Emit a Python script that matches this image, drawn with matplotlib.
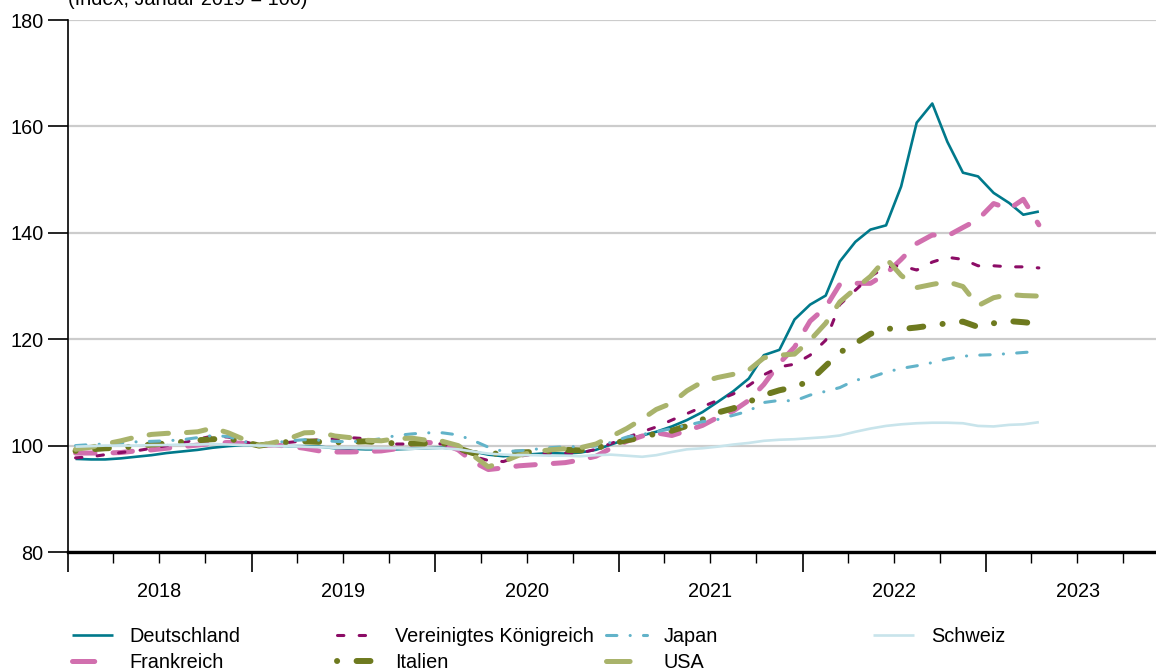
import matplotlib
matplotlib.use("Agg")
import matplotlib.pyplot as plt
import matplotlib.dates as mdates
from matplotlib.lines import Line2D
import pandas as pd
import numpy as np

plt.rcParams['font.family'] = ['Liberation Sans', 'DejaVu Sans']
plt.rcParams['lines.scale_dashes'] = False

# ---- data: monthly index, Jan 2018 .. Apr 2023 (Jan 2019 = 100) ----
start_month = "2018-01"
end_month = "2023-04"

deutschland = [97.5, 97.4, 97.4, 97.6, 97.9, 98.2, 98.6, 98.9, 99.2, 99.6, 99.9, 100.1,
               100.0, 100.0, 99.9, 99.9, 99.8, 99.5, 99.4, 99.3, 99.3, 99.3, 99.4, 99.5,
               99.6, 99.3, 98.9, 98.3, 98.0, 98.2, 98.4, 98.6, 98.5, 98.7, 99.2, 100.2,
               101.2, 101.9, 102.6, 103.6, 104.8, 106.3, 108.2, 110.2, 112.6, 117.0, 118.0, 123.7,
               126.5, 128.2, 134.6, 138.3, 140.6, 141.4, 148.7, 160.7, 164.3, 157.1, 151.3, 150.6,
               147.5, 145.6, 143.4, 144.0]
frankreich = [98.6, 98.6, 98.6, 98.7, 99.0, 99.2, 99.5, 99.8, 100.1, 100.4, 100.6, 100.4,
              100.0, 100.1, 99.9, 99.5, 99.0, 98.8, 98.8, 98.9, 99.0, 99.4, 100.3, 100.6,
              100.4, 99.2, 97.0, 95.5, 95.8, 96.2, 96.4, 96.6, 96.8, 97.3, 98.0, 99.5,
              100.8, 101.8, 102.4, 101.9, 102.8, 103.8, 105.3, 106.5, 108.5, 111.5, 115.5, 118.5,
              123.4, 126.0, 130.3, 130.5, 130.5, 132.3, 135.0, 138.0, 139.6, 139.4, 141.0, 142.5,
              145.5, 144.5, 146.3, 141.5]
vereinigtes_koenigreich = [97.7, 97.9, 98.3, 98.7, 99.0, 99.5, 100.0, 100.5, 101.2, 101.8, 101.6, 100.8,
                           100.0, 100.2, 100.6, 100.9, 101.1, 101.3, 101.5, 101.3, 100.8, 100.3, 100.3, 100.5,
                           100.3, 99.4, 98.0, 97.2, 97.0, 98.0, 98.4, 98.6, 98.6, 98.6, 99.3, 100.4,
                           101.5, 102.6, 103.5, 104.8, 106.0, 107.3, 108.5, 109.7, 111.3, 113.3, 114.8, 115.3,
                           117.0, 119.8, 126.5, 129.2, 131.8, 133.6, 133.8, 133.0, 134.5, 135.4, 135.0, 133.8,
                           133.8, 133.6, 133.6, 133.4]
italien = [99.0, 99.3, 99.5, 99.6, 99.9, 100.2, 100.4, 100.7, 101.0, 101.2, 101.3, 100.7,
           100.0, 100.4, 100.7, 100.8, 100.7, 100.6, 100.7, 100.8, 100.6, 100.4, 100.4, 100.4,
           100.5, 99.5, 98.6, 98.4, 98.6, 98.7, 98.8, 99.0, 99.2, 99.1, 99.5, 100.3,
           101.0, 101.5, 102.3, 102.8, 103.7, 104.9, 106.2, 107.0, 108.2, 109.5, 110.4, 111.0,
           112.2, 115.0, 117.5, 119.2, 121.0, 122.0, 121.9, 122.2, 122.6, 123.0, 123.3, 122.3,
           123.0, 123.4, 123.2, 122.9]
japan = [100.0, 100.2, 100.3, 100.5, 100.7, 100.8, 100.9, 101.1, 101.5, 101.9, 101.7, 100.8,
         100.0, 100.5, 100.9, 101.1, 101.0, 100.8, 100.7, 100.9, 101.3, 101.9, 102.2, 102.4,
         102.4, 102.0, 101.0, 99.7, 98.9, 99.0, 99.3, 99.6, 99.8, 99.8, 99.9, 100.6,
         101.6, 102.1, 102.6, 103.2, 103.8, 104.5, 104.9, 105.7, 106.5, 108.1, 108.5, 108.4,
         109.5, 110.2, 110.9, 112.3, 112.8, 113.8, 114.5, 115.0, 115.6, 116.3, 116.8, 117.0,
         117.1, 117.3, 117.5, 117.7]
usa = [99.3, 99.7, 100.3, 100.9, 101.6, 102.1, 102.3, 102.4, 102.6, 103.3, 102.4, 101.2,
       100.0, 100.6, 101.3, 102.4, 102.5, 101.8, 101.5, 101.0, 100.9, 101.3, 101.4, 101.0,
       100.8, 100.0, 98.2, 96.0, 97.0, 98.2, 98.8, 99.2, 99.4, 99.6, 100.3, 101.7,
       103.2, 105.0, 106.8, 108.0, 110.3, 112.0, 112.8, 113.4, 114.2, 116.5, 117.0, 117.2,
       119.8, 123.0, 127.0, 129.5, 131.8, 135.2, 132.0, 129.7, 130.3, 130.8, 129.9, 126.3,
       127.8, 128.4, 128.2, 128.1]
schweiz = [99.8, 99.9, 100.0, 100.0, 100.0, 100.1, 100.1, 100.2, 100.2, 100.3, 100.2, 100.1,
           100.0, 99.9, 99.9, 99.8, 99.7, 99.6, 99.6, 99.5, 99.5, 99.5, 99.4, 99.5,
           99.5, 99.3, 98.9, 98.5, 98.3, 98.2, 98.2, 98.1, 98.1, 98.0, 98.2, 98.3,
           98.1, 97.9, 98.2, 98.8, 99.3, 99.5, 99.8, 100.2, 100.5, 100.9, 101.1, 101.2,
           101.4, 101.6, 101.9, 102.6, 103.2, 103.7, 104.0, 104.2, 104.3, 104.3, 104.2, 103.7,
           103.6, 103.9, 104.0, 104.4]

series_names = ["Deutschland", "Frankreich", "Vereinigtes Königreich", "Italien",
                "Japan", "USA", "Schweiz"]
series_values = [deutschland, frankreich, vereinigtes_koenigreich, italien, japan, usa, schweiz]
year_labels = ["2018", "2019", "2020", "2021", "2022", "2023"]
y_ticks = [80, 100, 120, 140, 160, 180]
title = "(Index, Januar 2019 = 100)"

# ---- styles ----
styles = {
    "Deutschland": dict(color="#00798b", lw=1.9, ls="-"),
    "Frankreich": dict(color="#d16fae", lw=3.6, ls=(0, (14, 13)), dash_capstyle="round"),
    "Vereinigtes Königreich": dict(color="#8c0c66", lw=2.2, ls=(0, (4.6, 11)), dash_capstyle="round"),
    "Italien": dict(color="#6e7a1f", lw=4.3, ls=(24, (10, 14, 0.1, 14)), dash_capstyle="round"),
    "Japan": dict(color="#62b3c9", lw=2.2, ls=(0, (7.5, 9.5, 0.1, 9.5)), dash_capstyle="round"),
    "USA": dict(color="#a9b36b", lw=3.6, ls=(0, (14, 13)), dash_capstyle="round"),
    "Schweiz": dict(color="#c8e4eb", lw=1.9, ls="-"),
}
# legend keys for the long-dashed series show one single dash
legend_ls = {"Frankreich": (0, (16, 40)), "USA": (0, (17, 40)),
             "Vereinigtes Königreich": (0, (4.6, 11))}

W, H = 1156, 670
fig = plt.figure(figsize=(W / 100, H / 100), dpi=100)
ax = fig.add_axes([68 / W, 1 - 552 / H, 1 - 68 / W, (552 - 20) / H])

months = pd.date_range(start_month, end_month, freq="MS") + pd.Timedelta(days=15)

for name, vals in zip(series_names, series_values):
    st = styles[name]
    kw = {k: v for k, v in st.items() if k not in ("ls",)}
    ax.plot(months, vals, linestyle=st["ls"], label=name, solid_capstyle="butt", **kw)

# axes limits
x0 = mdates.date2num(pd.Timestamp("2018-01-01"))
x1 = mdates.date2num(pd.Timestamp("2024-01-01"))
ax.set_xlim(x0, x0 + (x1 - x0) * (1088 / (6 * 183.6)))
ax.set_ylim(80, 180)

# y axis
ax.set_yticks(y_ticks)
ax.set_yticklabels([str(v) for v in y_ticks])
ax.tick_params(axis="y", direction="out", length=14.5, width=1.2, pad=3, labelsize=14.3)
ax.yaxis.grid(True, color="#cccccc", lw=1.6)
ax.set_axisbelow(True)

# x axis ticks: years (long), quarters (short)
year_pos = [pd.Timestamp(f"{y}-01-01") for y in year_labels]
quarter_pos = pd.date_range("2018-01-01", "2023-12-31", freq="QS")
ax.set_xticks(year_pos)
ax.set_xticklabels([])
ax.set_xticks(quarter_pos, minor=True)
ax.tick_params(axis="x", which="major", direction="out", length=14.5, width=1.2)
ax.tick_params(axis="x", which="minor", direction="out", length=8, width=1.0)

sec = ax.secondary_xaxis("bottom")
sec.set_xticks([pd.Timestamp(f"{y}-07-02") for y in year_labels])
sec.set_xticklabels(year_labels)
sec.tick_params(length=0, pad=21.5, labelsize=14.3)
sec.spines["bottom"].set_visible(False)

for s in ["top", "right"]:
    ax.spines[s].set_visible(False)
ax.spines["left"].set_linewidth(1.2)
ax.spines["bottom"].set_linewidth(2.4)
ax.spines["bottom"].set_zorder(5)

# title (partly above the top edge, as in the original)
fig.text(68 / W, 1 - 5 / H, title, fontsize=14.3, va="baseline", ha="left")

# legend in 4 fixed columns
def key(name):
    st = styles[name]
    kw = {k: v for k, v in st.items() if k not in ("ls",)}
    return Line2D([], [], linestyle=legend_ls.get(name, st["ls"]), solid_capstyle="butt", **kw)

col_x = [72, 337, 606, 873]
columns = [["Deutschland", "Frankreich"], ["Vereinigtes Königreich", "Italien"],
           ["Japan", "USA"], ["Schweiz"]]
for cx, names in zip(col_x, columns):
    fig.legend([key(n) for n in names], names, loc="upper left",
               bbox_to_anchor=(cx / W, 1 - 627 / H), frameon=False,
               fontsize=14.3, handlelength=2.06, handletextpad=0.85,
               borderpad=0, borderaxespad=0, labelspacing=0.34)

fig.savefig("out.png", dpi=100)
